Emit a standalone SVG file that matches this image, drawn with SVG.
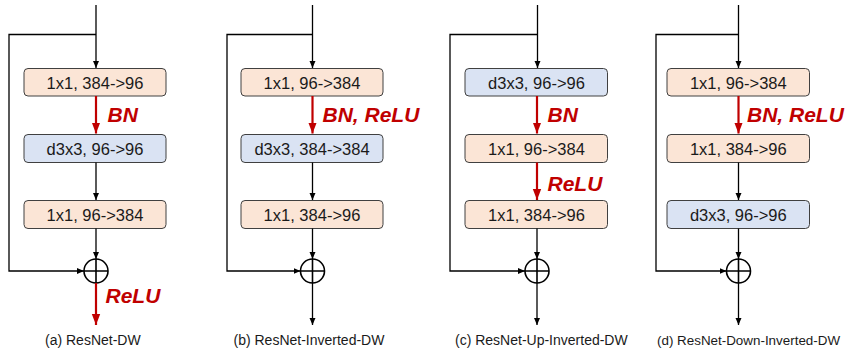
<svg xmlns="http://www.w3.org/2000/svg" width="847" height="351" viewBox="0 0 847 351">
<style>
.box{stroke:#404040;stroke-width:1;}
.pw{fill:#fbe5d6;}
.bl{fill:#dae3f3;}
.bt{font-family:"Liberation Sans",Arial,sans-serif;font-size:16.5px;fill:#1a1a1a;text-anchor:middle;}
.ln{fill:none;stroke:#000;stroke-width:1.3;}
.rd{fill:none;stroke:#c00000;stroke-width:2.2;}
.rl{font-family:"Liberation Sans",Arial,sans-serif;font-size:21px;font-weight:bold;font-style:italic;fill:#c00000;}
.cap{font-family:"Liberation Sans",Arial,sans-serif;font-size:14px;fill:#1a1a1a;}
.sum{fill:none;stroke:#000;stroke-width:1.6;}
</style>
<defs>
<marker id="ah" markerUnits="userSpaceOnUse" markerWidth="8" markerHeight="8" viewBox="0 0 8 8" refX="7" refY="4" orient="auto">
<path d="M0,1 L7,4 L0,7 Z" fill="#000"/>
</marker>
<marker id="ahr" markerUnits="userSpaceOnUse" markerWidth="12" markerHeight="10" viewBox="0 0 12 10" refX="11" refY="5" orient="auto">
<path d="M0,0.8 L11,5 L0,9.2 Z" fill="#c00000"/>
</marker>
</defs>

<!-- Panel a -->
<g id="a-box1"><rect class="box pw" x="24" y="68.5" width="142" height="27.5" rx="4"/><text class="bt" x="95" y="89">1x1, 384-&gt;96</text></g>
<g id="a-box2"><rect class="box bl" x="24" y="134.5" width="142" height="28" rx="4"/><text class="bt" x="95" y="155">d3x3, 96-&gt;96</text></g>
<g id="a-box3"><rect class="box pw" x="24" y="200.5" width="142" height="28" rx="4"/><text class="bt" x="95" y="221">1x1, 96-&gt;384</text></g>
<g id="a-sum"><circle class="sum" cx="96" cy="271" r="12"/><path class="sum" d="M84,271 H108 M96,259 V283"/></g>

<!-- Panel b -->
<g id="b-box1"><rect class="box pw" x="241" y="68.5" width="142" height="27.5" rx="4"/><text class="bt" x="312" y="89">1x1, 96-&gt;384</text></g>
<g id="b-box2"><rect class="box bl" x="241" y="134.5" width="142" height="28" rx="4"/><text class="bt" x="312" y="155">d3x3, 384-&gt;384</text></g>
<g id="b-box3"><rect class="box pw" x="241" y="200.5" width="142" height="28" rx="4"/><text class="bt" x="312" y="221">1x1, 384-&gt;96</text></g>
<g id="b-sum"><circle class="sum" cx="312.5" cy="271" r="12"/><path class="sum" d="M300.5,271 H324.5 M312.5,259 V283"/></g>

<!-- Panel c -->
<g id="c-box1"><rect class="box bl" x="465" y="68.5" width="142.5" height="27.5" rx="4"/><text class="bt" x="536.5" y="89">d3x3, 96-&gt;96</text></g>
<g id="c-box2"><rect class="box pw" x="465" y="134.5" width="142.5" height="28" rx="4"/><text class="bt" x="536.5" y="155">1x1, 96-&gt;384</text></g>
<g id="c-box3"><rect class="box pw" x="465" y="200.5" width="142.5" height="28" rx="4"/><text class="bt" x="536.5" y="221">1x1, 384-&gt;96</text></g>
<g id="c-sum"><circle class="sum" cx="537" cy="271" r="12"/><path class="sum" d="M525,271 H549 M537,259 V283"/></g>

<!-- Panel d -->
<g id="d-box1"><rect class="box pw" x="667" y="68.5" width="142.5" height="27.5" rx="4"/><text class="bt" x="738.3" y="89">1x1, 96-&gt;384</text></g>
<g id="d-box2"><rect class="box pw" x="667" y="134.5" width="142.5" height="28" rx="4"/><text class="bt" x="738.3" y="155">1x1, 384-&gt;96</text></g>
<g id="d-box3"><rect class="box bl" x="667" y="200.5" width="142.5" height="28" rx="4"/><text class="bt" x="738.3" y="221">d3x3, 96-&gt;96</text></g>
<g id="d-sum"><circle class="sum" cx="738.5" cy="271" r="12"/><path class="sum" d="M726.5,271 H750.5 M738.5,259 V283"/></g>

<g id="connectors">
<!-- a -->
<path class="ln" d="M96,5 V68" marker-end="url(#ah)"/>
<path class="ln" d="M96,34.5 H9 V271 H84" marker-end="url(#ah)"/>
<path class="rd" d="M96,96 V133.5" marker-end="url(#ahr)"/>
<path class="ln" d="M96,162.5 V200" marker-end="url(#ah)"/>
<path class="ln" d="M96,228.5 V259" marker-end="url(#ah)"/>
<path class="rd" d="M96,283 V325" marker-end="url(#ahr)"/>
<!-- b -->
<path class="ln" d="M312.5,5 V68" marker-end="url(#ah)"/>
<path class="ln" d="M312.5,34.5 H227 V271 H300.5" marker-end="url(#ah)"/>
<path class="rd" d="M312.5,96 V133.5" marker-end="url(#ahr)"/>
<path class="ln" d="M312.5,162.5 V200" marker-end="url(#ah)"/>
<path class="ln" d="M312.5,228.5 V259" marker-end="url(#ah)"/>
<path class="ln" d="M312.5,283 V325" marker-end="url(#ah)"/>
<!-- c -->
<path class="ln" d="M537.5,5 V68" marker-end="url(#ah)"/>
<path class="ln" d="M537.5,34.5 H450 V271 H525" marker-end="url(#ah)"/>
<path class="rd" d="M537,96 V133.5" marker-end="url(#ahr)"/>
<path class="rd" d="M537,162.5 V200" marker-end="url(#ahr)"/>
<path class="ln" d="M537,228.5 V259" marker-end="url(#ah)"/>
<path class="ln" d="M537,283 V325" marker-end="url(#ah)"/>
<!-- d -->
<path class="ln" d="M738.5,5 V68" marker-end="url(#ah)"/>
<path class="ln" d="M738.5,34.5 H656 V271 H726.5" marker-end="url(#ah)"/>
<path class="rd" d="M738.5,96 V133.5" marker-end="url(#ahr)"/>
<path class="ln" d="M738.5,162.5 V200" marker-end="url(#ah)"/>
<path class="ln" d="M738.5,228.5 V259" marker-end="url(#ah)"/>
<path class="ln" d="M738.5,283 V325" marker-end="url(#ah)"/>
</g>

<g id="labels">
<text class="rl" x="107.5" y="122">BN</text>
<text class="rl" x="105.5" y="303">ReLU</text>
<text class="rl" x="322.5" y="122">BN, ReLU</text>
<text class="rl" x="547.5" y="121.5">BN</text>
<text class="rl" x="547.5" y="190.5">ReLU</text>
<text class="rl" x="747" y="122">BN, ReLU</text>
</g>

<g id="captions">
<text class="cap" x="45" y="345">(a) ResNet-DW</text>
<text class="cap" x="233.5" y="345">(b) ResNet-Inverted-DW</text>
<text class="cap" x="455" y="345">(c) ResNet-Up-Inverted-DW</text>
<text class="cap" x="657" y="345" style="font-size:13.4px">(d) ResNet-Down-Inverted-DW</text>
</g>
</svg>
